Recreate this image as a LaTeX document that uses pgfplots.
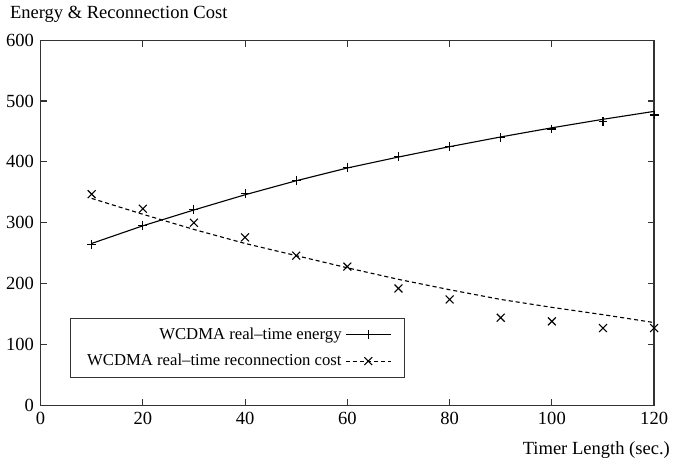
\documentclass[border=0pt]{standalone}
\usepackage{fontspec}
\setmainfont{Liberation Serif}
\usepackage{pgfplots}
\pgfplotsset{compat=1.18}
\begin{document}
\begin{tikzpicture}
\begin{axis}[
  scale only axis, width=331pt, height=197pt,
  xmin=0, xmax=120, ymin=0, ymax=600,
  xtick={0,20,...,120}, ytick={0,100,...,600},
  tick align=inside, major tick length=3.5pt,
  axis line style={black!80, line width=0.7pt},
  every tick/.style={black!80, line width=0.6pt},
  tick label style={font=\fontsize{10}{12}\selectfont},
  /pgf/number format/assume math mode=true,
  ylabel={Energy \& Reconnection Cost},
  every axis y label/.style={at={(rel axis cs:0,1)}, anchor=south west, xshift=-20pt, yshift=6pt},
  xlabel={Timer Length (sec.)},
  every axis x label/.style={at={(rel axis cs:1,0)}, anchor=north east, xshift=12pt, yshift=-16pt},
  legend style={at={(0.048,0.24)}, anchor=north west, draw=black!80, line width=0.6pt, inner xsep=7pt, inner ysep=3pt, row sep=2.5pt, font=\fontsize{9}{11}\selectfont},
  legend plot pos=right, legend cell align=right,
]
% fitted curves
\addplot[black, line width=0.6pt, forget plot] coordinates {
(10,266) (20,295) (30,321) (40,346) (50,369) (60,390) (70,408) (80,425) (90,441) (100,456) (110,470) (120,483)};
\addplot[black, line width=0.6pt, dash pattern=on 2.2pt off 1.6pt, forget plot] coordinates {
(10,340) (20,314) (30,289) (40,266) (50,246) (60,226) (70,207) (80,190) (90,174) (100,161) (110,149) (120,136)};
% data markers
\addplot[black, only marks, mark=+, mark size=2.4pt, line width=0.6pt,
  legend image code/.code={\draw[black, line width=0.6pt] (0cm,0cm) -- (0.85cm,0cm);
    \draw[black, line width=0.6pt] plot[mark=+, mark size=2.4pt] coordinates {(0.425cm,0cm)};}]
  coordinates {(10,265) (20,295) (30,322) (40,348) (50,370) (60,391) (70,409) (80,426) (90,440) (100,454) (110,466) (120,477)};
\addlegendentry{WCDMA real--time energy}
\addplot[black, only marks, mark=x, mark size=3pt, line width=0.6pt,
  legend image code/.code={\draw[black, line width=0.6pt, dash pattern=on 2.2pt off 1.6pt] (0cm,0cm) -- (0.85cm,0cm);
    \draw[black, line width=0.6pt] plot[mark=x, mark size=3pt] coordinates {(0.425cm,0cm)};}]
  coordinates {(10,347) (20,323) (30,300) (40,276) (50,246) (60,228) (70,192) (80,174) (90,144) (100,138) (110,127) (120,127)};
\addlegendentry{WCDMA real--time reconnection cost}
\end{axis}
\end{tikzpicture}
\end{document}
